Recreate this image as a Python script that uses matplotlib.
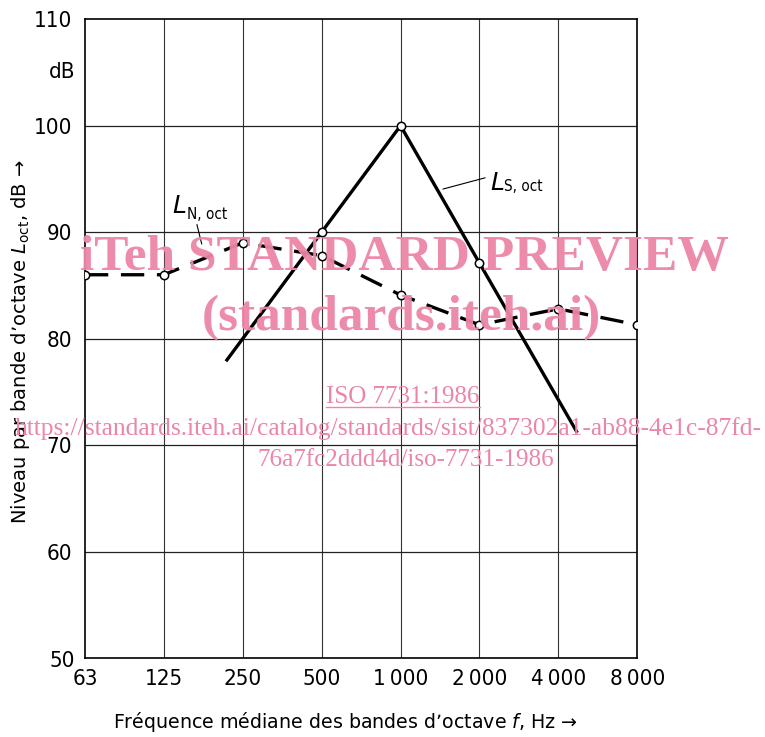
import matplotlib.pyplot as plt

# Data
freq_labels = ['63', '125', '250', '500', '1\u2009000', '2\u2009000', '4\u2009000', '8\u2009000']
n_pos = [0, 1, 2, 3, 4, 5, 6, 7]
n_level = [86.0, 86.0, 89.0, 87.8, 84.1, 81.3, 82.8, 81.3]
s_pos = [1.8, 3, 4, 5, 6.23]
s_level = [78.0, 90.0, 100.0, 87.1, 71.3]
s_marked = [False, True, True, True, False]
y_ticks = [50, 60, 70, 80, 90, 100, 110]

plt.rcParams['font.family'] = ['DejaVu Sans']

fig = plt.figure(figsize=(7.65, 7.37), dpi=100)
ax = fig.add_axes([0.111, 0.107, 0.722, 0.867])

ax.set_xlim(0, 7)
ax.set_ylim(50, 110)

# Grille
for p in n_pos[1:-1]:
    ax.axvline(p, color='#333333', lw=0.8, zorder=1)
for y in y_ticks[1:-1]:
    ax.axhline(y, color='#222222', lw=0.9, zorder=1)
for s in ax.spines.values():
    s.set_linewidth(1.2)

# Courbes
ax.plot(n_pos, n_level, color='black', lw=2.4, dashes=(7, 3.8), zorder=3)
ax.plot(n_pos, n_level, 'o', ms=6, mfc='white', mec='black', mew=1.1, zorder=4)
ax.plot(s_pos, s_level, color='black', lw=2.4, zorder=3)
ax.plot([p for p, m in zip(s_pos, s_marked) if m],
        [v for v, m in zip(s_level, s_marked) if m],
        'o', ms=6, mfc='white', mec='black', mew=1.1, zorder=4)

# Etiquettes des courbes
ax.text(1.1, 91.8, r'$\mathit{L}$', fontsize=18, ha='left', va='baseline')
ax.text(1.29, 91.2, 'N, oct', fontsize=11, ha='left', va='baseline', stretch='condensed')
ax.plot([1.42, 1.48], [90.7, 88.9], color='black', lw=0.8)
ax.text(5.13, 94.0, r'$\mathit{L}$', fontsize=18, ha='left', va='baseline')
ax.text(5.31, 93.85, 'S, oct', fontsize=11, ha='left', va='baseline', stretch='condensed')
ax.plot([4.54, 5.07], [94.05, 95.1], color='black', lw=0.8)

# Axes
ax.set_xticks(n_pos)
ax.set_xticklabels(freq_labels, fontsize=16, stretch='condensed')
ax.set_yticks(y_ticks[1:])
ax.set_yticklabels([str(v) for v in y_ticks[1:]], fontsize=16, stretch='condensed')
ax.tick_params(length=0)
ax.tick_params(axis='y', pad=9)
ax.tick_params(axis='x', pad=8)
ax.text(-0.12, 49.7, '50', fontsize=16, ha='right', va='center', stretch='condensed')
ax.text(-0.12, 105, 'dB', fontsize=16, ha='right', va='center', stretch='condensed')
fig.text(0.452, 0.020, 'Fréquence médiane des bandes d\u2019octave $f$, Hz \u2192',
         fontsize=13.7, ha='center', va='center')
fig.text(0.027, 0.536, 'Niveau par bande d\u2019octave $L_{\\mathrm{oct}}$, dB \u2192',
         fontsize=14, ha='center', va='center', rotation=90)

# Filigrane
pink = '#EC86A6'
fig.text(0.529, 0.65, 'iTeh STANDARD PREVIEW', family='Liberation Serif', weight='bold',
         fontsize=37, color=pink, ha='center', va='center', alpha=0.95, zorder=10)
fig.text(0.525, 0.568, '(standards.iteh.ai)', family='Liberation Serif', weight='bold',
         fontsize=37, color=pink, ha='center', va='center', alpha=0.95, zorder=10)
fig.text(0.527, 0.461, 'ISO 7731:1986', family='Liberation Serif', fontsize=18,
         color=pink, ha='center', va='center', zorder=10)
fig.add_artist(plt.Line2D([0.426, 0.627], [0.448, 0.448], color=pink, lw=1))
fig.text(0.508, 0.419, 'https://standards.iteh.ai/catalog/standards/sist/837302a1-ab88-4e1c-87fd-',
         family='Liberation Serif', fontsize=18.4, color=pink, ha='center', va='center', zorder=10)
fig.text(0.531, 0.376, '76a7fc2ddd4d/iso-7731-1986', family='Liberation Serif', fontsize=18.1,
         color=pink, ha='center', va='center', zorder=10)

fig.savefig('out.png', dpi=100)
